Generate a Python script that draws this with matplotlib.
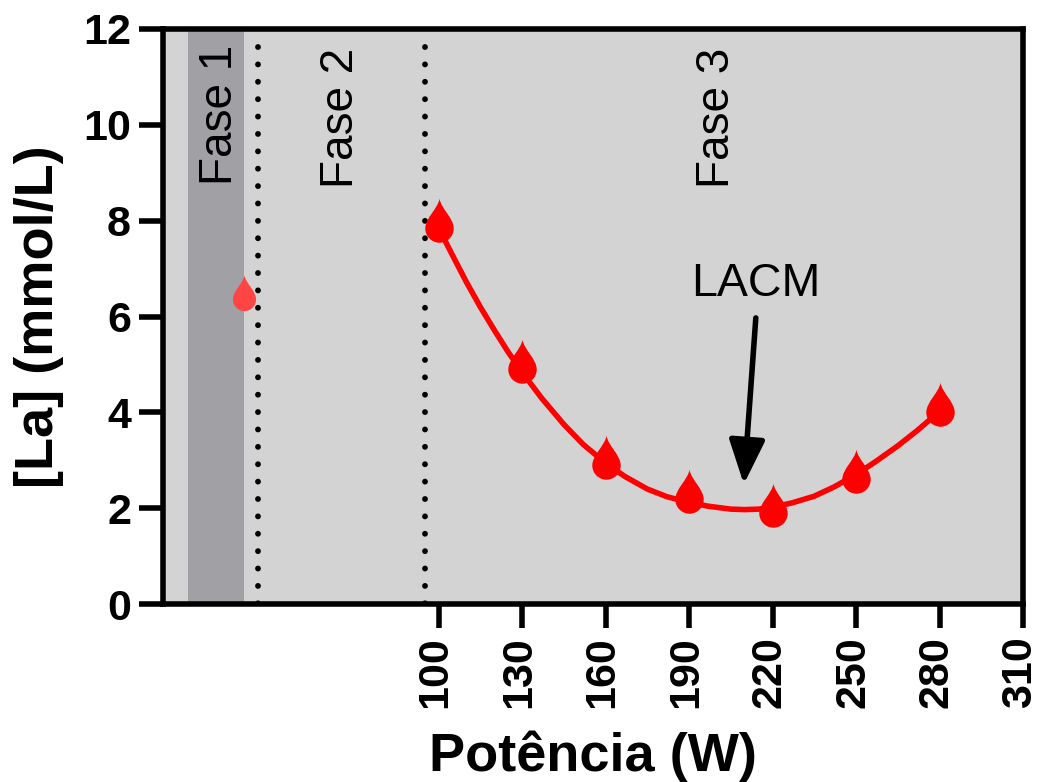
#!/usr/bin/env python3
import matplotlib
matplotlib.use("Agg")
import matplotlib.pyplot as plt
from matplotlib.path import Path
from matplotlib.transforms import ScaledTranslation

plt.rcParams["font.family"] = ["Liberation Sans", "DejaVu Sans"]

# ---------- data ----------
power = [100, 130, 160, 190, 220, 250, 280]
lactate = [7.85, 4.9, 2.9, 2.2, 1.9, 2.6, 4.0]
rest_power = [30]
rest_lactate = [6.37]

curve_power = [100, 105, 110, 115, 120, 125, 130, 137, 145, 152, 160, 167, 175, 182, 190, 197, 205, 210,
               215, 220, 227, 235, 242, 250, 257, 265, 272, 280]
curve_lactate = [7.85, 7.28, 6.72, 6.2, 5.72, 5.26, 4.84, 4.3, 3.75, 3.33, 2.94, 2.66, 2.4, 2.24, 2.12, 2.04, 1.98, 1.97,
                 1.98, 2.02, 2.11, 2.25, 2.44, 2.7, 2.97, 3.3, 3.62, 4.02]

xticks = [100, 130, 160, 190, 220, 250, 280, 310]
yticks = [0, 2, 4, 6, 8, 10, 12]
phase1_band = (10, 30)
phase_lines = [35, 95]

# ---------- teardrop marker ----------
drop = Path(
    [(0, 2.1), (0.1, 1.4), (1, 0.75), (1, 0), (1, -0.55), (0.55, -1), (0, -1),
     (-0.55, -1), (-1, -0.55), (-1, 0), (-1, 0.75), (-0.1, 1.4), (0, 2.1), (0, 2.1)],
    [Path.MOVETO] + [Path.CURVE4] * 12 + [Path.CLOSEPOLY],
)

fig = plt.figure(figsize=(10.39, 7.82), dpi=100)
ax = fig.add_axes([163 / 1039, 1 - 604 / 782, 860 / 1039, 575 / 782])
ax.set_facecolor("#d3d3d3")
ax.set_xlim(1, 310)
ax.set_ylim(0, 12)

ax.axvspan(*phase1_band, color="#a0a0a5", lw=0, zorder=1)
for x in phase_lines:
    ax.plot([x, x], [11.63, 0], color="black", lw=4.2, ls=(0, (0.01, 2.97)),
            dash_capstyle="round", zorder=2)

ax.plot(curve_power, curve_lactate, color="#ff0000", lw=4, zorder=3)
ax.plot(power, lactate, ls="none", marker=drop, ms=43, mfc="#ff0000", mec="none", zorder=4)
ax.plot(rest_power, rest_lactate, ls="none", marker=drop, ms=35, mfc="#ff4444", mec="none", zorder=4)

for label, x, y in [("Fase 1", 21.5, 10.2), ("Fase 2", 65, 10.15), ("Fase 3", 200, 10.15)]:
    ax.text(x, y, label, rotation=90, ha="center", va="center", fontsize=33, zorder=5)
ax.text(214, 6.67, "LACM", ha="center", va="center", fontsize=33.5, zorder=5)
ax.annotate("", xy=(209.7, 2.5), xytext=(214, 5.97), zorder=5,
            arrowprops=dict(arrowstyle="-|>,head_length=1.35,head_width=0.55", color="black",
                            lw=4, shrinkA=0, shrinkB=0, mutation_scale=20))

ax.set_xticks(xticks)
ax.set_yticks(yticks)
ax.tick_params(axis="both", width=4, length=17, labelsize=31, pad=6)
# rotated labels sit a little left of their ticks
shift = ScaledTranslation(-3 / 100, 0, fig.dpi_scale_trans)
for t in ax.get_xticklabels():
    t.set_rotation(90)
    t.set_fontweight("bold")
    t.set_transform(t.get_transform() + shift)
for t in ax.get_yticklabels():
    t.set_fontweight("bold")
for s in ax.spines.values():
    s.set_linewidth(4)

fig.text(593 / 1039, 1 - 756 / 782, "Potência (W)", ha="center", va="center", fontsize=39, fontweight="bold")
fig.text(39 / 1039, 1 - 317 / 782, "[La] (mmol/L)", ha="center", va="center", rotation=90,
         fontsize=39, fontweight="bold")

fig.savefig("out.png", dpi=100)
